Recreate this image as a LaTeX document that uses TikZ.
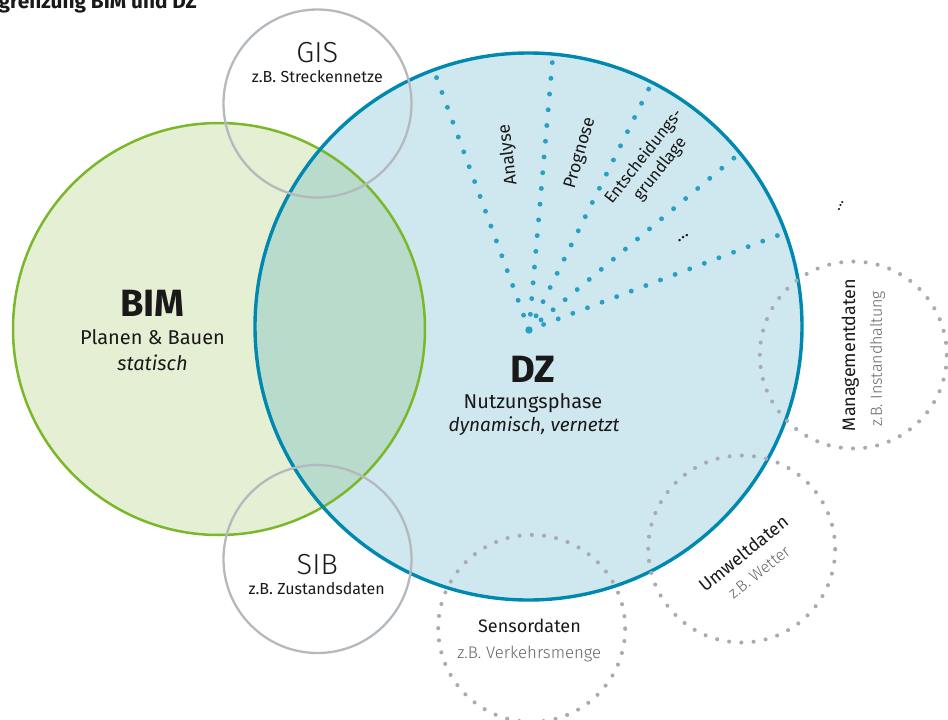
\documentclass[tikz,border=0pt]{standalone}
\usepackage{fontspec}
\setmainfont{Fira Sans}
\newfontfamily\lightfont{Fira Sans Light}
\definecolor{bimfill}{RGB}{229,239,211}
\definecolor{bimline}{RGB}{122,184,42}
\definecolor{dzfill}{RGB}{207,231,238}
\definecolor{dzline}{RGB}{0,137,176}
\definecolor{overlapfill}{RGB}{184,219,203}
\definecolor{raydot}{RGB}{40,160,195}
\definecolor{ringgray}{RGB}{180,185,190}
\definecolor{dotgray}{RGB}{168,172,176}
\definecolor{inktext}{RGB}{25,25,25}
\definecolor{softtext}{RGB}{100,100,100}
\newcommand{\fs}[1]{\fontsize{#1}{#1}\selectfont}
\begin{document}
\begin{tikzpicture}[x=1pt,y=-1pt,
  every node/.style={text=inktext, inner sep=0pt},
  bigcircle/.style={circle, inner sep=0pt, minimum size=#1},
  ringstyle/.style={draw=ringgray, line width=2.3pt},
  datacircle/.style={circle, inner sep=0pt, minimum size=187pt, draw=dotgray,
     line width=4.1pt, line cap=round, dash pattern=on 0pt off 12.23pt},
  raydots/.style={draw=raydot, line width=4.9pt, line cap=round},
  headline/.style={font=\fs{38}\bfseries, anchor=base},
  subline/.style={font=\fs{20}, anchor=base},
  ringhead/.style={font=\lightfont\fs{29}, anchor=base},
  ringsub/.style={font=\fs{16}, anchor=base},
  datahead/.style={font=\fs{18}},
  datasub/.style={font=\lightfont\fs{16}, text=softtext},
  branchlabel/.style={font=\fs{17.5}, align=center}]
\useasboundingbox (0,0) rectangle (948,720);

% title (runs off the left edge)
\node[font=\fs{20.8}\bfseries, anchor=base east] (title) at (197,9) {grenzung BIM und DZ};

% main circles: fills first
\node[bigcircle=412pt, fill=bimfill] (bim) at (219,329) {};
\node[bigcircle=547pt, fill=dzfill] (dz) at (528.5,326.5) {};
\begin{scope}
  \clip (dz.center) circle[radius=273.5];
  \fill[overlapfill] (bim.center) circle[radius=206];
\end{scope}

% dotted fan inside DZ
\coordinate (hub) at (529,330);
\coordinate (r1) at (436.5,77.5);
\coordinate (r2) at (552.3,62.5);
\coordinate (r3) at (648.7,89);
\coordinate (r4) at (734,158);
\coordinate (r5) at (777.5,235.5);
\draw[raydots, dash pattern=on 0pt off 15.81pt] (hub) -- (r1);
\draw[raydots, dash pattern=on 0pt off 15.79pt] (hub) -- (r2);
\draw[raydots, dash pattern=on 0pt off 15.82pt] (hub) -- (r3);
\draw[raydots, dash pattern=on 0pt off 15.73pt] (hub) -- (r4);
\draw[raydots, dash pattern=on 0pt off 15.63pt] (hub) -- (r5);
\fill[raydot] (hub) circle[radius=3.7];

% outlines of the main circles
\draw[bimline, line width=2.5pt] (bim.center) circle[radius=206];
\draw[dzline, line width=3.4pt] (dz.center) circle[radius=273.5];

% GIS and SIB rings
\node[bigcircle=188pt, ringstyle] (gis) at (317.5,103.5) {};
\node[bigcircle=188pt, ringstyle] (sib) at (317.5,559) {};

% dotted data circles
\node[datacircle] (sensor) at (531.7,628.4) {};
\node[datacircle] (umwelt) at (741.7,549) {};
\node[datacircle] (mgmt) at (853.3,355) {};

% BIM labels
\node[headline] (bimT) at (152.5,316.7) {BIM};
\node[subline] (bimS) at (152.5,344) {Planen \& Bauen};
\node[subline, font=\fs{20}\itshape] (bimI) at (152.5,370) {statisch};

% DZ labels
\node[headline] (dzT) at (533,382.7) {DZ};
\node[subline] (dzS) at (533,408.3) {Nutzungsphase};
\node[subline, font=\fs{19}\itshape] (dzI) at (534,431) {dynamisch, vernetzt};

% ring labels
\node[ringhead] (gisT) at (317.3,62.7) {GIS};
\node[ringsub] (gisS) at (317.3,82.7) {z.B. Streckennetze};
\node[ringhead] (sibT) at (317.3,574.3) {SIB};
\node[ringsub] (sibS) at (316.7,594.3) {z.B. Zustandsdaten};

% fan labels
\node[branchlabel, rotate=97] (lAnalyse) at (508.3,155) {Analyse};
\node[branchlabel, rotate=74] (lPrognose) at (580.5,153.3) {Prognose};
\node[branchlabel, rotate=52, font=\fs{16.5}, execute at begin node={\baselineskip=20.5pt}] (lEnt) at (652,163) {Entscheidungs-\\grundlage};
\node[branchlabel, rotate=30] (lMore) at (683.3,238) {...};
\node[branchlabel, rotate=65, font=\fs{15}] (lOut) at (840.7,206) {...};

% data circle labels
\node[datahead, anchor=base] (senT) at (529.5,632.7) {Sensordaten};
\node[datasub, anchor=base, font=\lightfont\fs{16.8}] (senS) at (529.2,658.3) {z.B. Verkehrsmenge};
\node[datahead, rotate=39] (umwT) at (743.3,553.3) {Umweltdaten};
\node[datasub, rotate=39] (umwS) at (759,572.4) {z.B. Wetter};
\node[datahead, rotate=90, font=\fs{18}] (mgmtT) at (850.3,355) {Managementdaten};
\node[datasub, rotate=90] (mgmtS) at (877.5,359) {z.B. Instandhaltung};
\end{tikzpicture}
\end{document}
